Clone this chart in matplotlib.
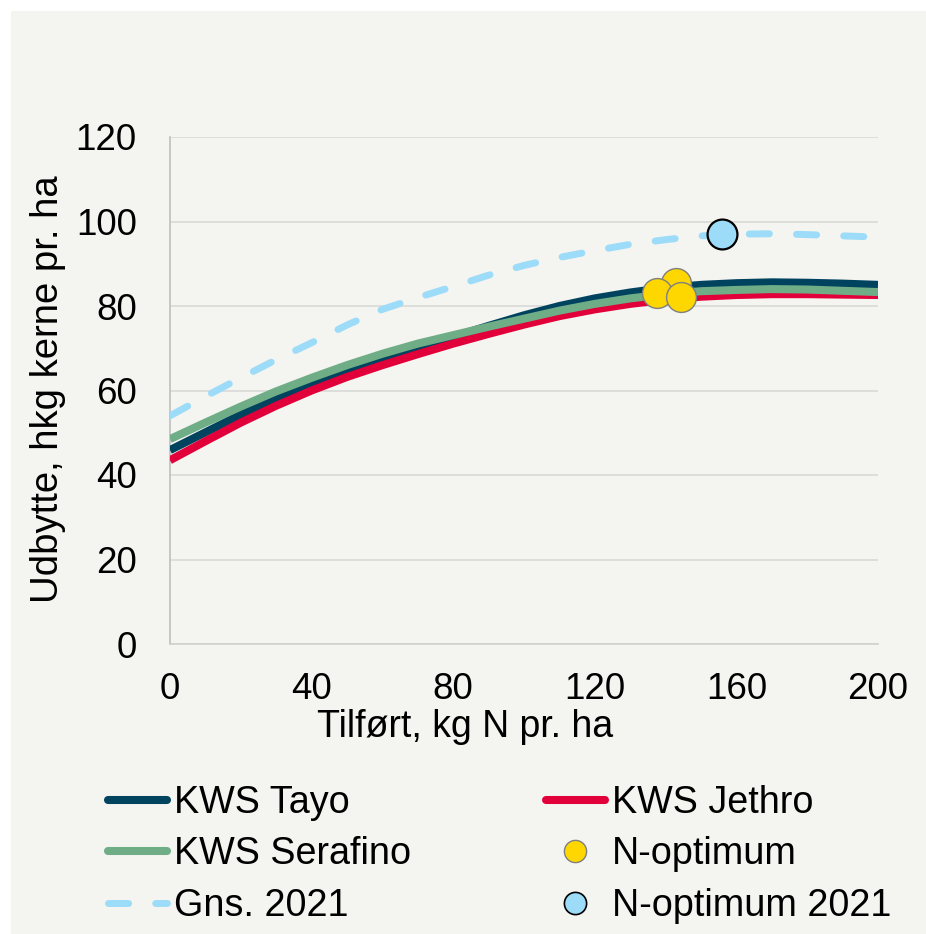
import matplotlib
matplotlib.use("Agg")
import matplotlib.pyplot as plt
from matplotlib.patches import Rectangle

plt.rcParams['font.family'] = ['Liberation Sans', 'DejaVu Sans']

# ---- data ----
n_levels = [0, 10, 20, 30, 40, 50, 60, 70, 80, 90, 100, 110, 120, 130, 140, 150, 160, 170, 180, 190, 200]
tayo = [45.9, 50.1, 54.3, 58.0, 61.4, 64.5, 67.4, 70.1, 72.7, 75.3, 77.8, 80.0, 81.8, 83.2, 84.3, 85.0, 85.4, 85.6, 85.5, 85.3, 85.0]
jethro = [43.5, 48.0, 52.4, 56.4, 60.0, 63.2, 66.0, 68.6, 71.1, 73.4, 75.6, 77.6, 79.2, 80.5, 81.5, 82.2, 82.6, 82.8, 82.8, 82.7, 82.6]
serafino = [48.5, 52.4, 56.2, 59.8, 63.0, 66.0, 68.7, 71.1, 73.1, 75.1, 77.0, 78.9, 80.5, 81.8, 82.8, 83.5, 83.8, 84.0, 83.9, 83.6, 83.3]
gns2021 = [54.0, 58.6, 63.0, 67.3, 71.3, 75.5, 79.2, 82.0, 84.6, 87.3, 89.6, 91.5, 93.1, 94.6, 95.7, 96.6, 97.0, 97.1, 96.9, 96.6, 96.3]
nopt_x = [143.0, 137.6, 144.3]
nopt_y = [85.4, 83.1, 82.2]
nopt21_x = [156.0]
nopt21_y = [97.0]
x_ticks = [0, 40, 80, 120, 160, 200]
y_ticks = [0, 20, 40, 60, 80, 100, 120]

W, H = 926, 934
fig = plt.figure(figsize=(W / 100, H / 100), dpi=100, facecolor='white')
bg = '#F4F4F0'
fig.patches.append(Rectangle((11 / W, 0), 1, 1 - 11 / H, transform=fig.transFigure,
                             facecolor=bg, edgecolor='none', zorder=-10))

ax = fig.add_axes([170 / W, 1 - 644 / H, (878 - 170) / W, (644 - 137) / H])
ax.set_facecolor(bg)
ax.set_xlim(0, 200)
ax.set_ylim(0, 120)
ax.set_xticks(x_ticks)
ax.set_yticks(y_ticks)
for s in ['top', 'right']:
    ax.spines[s].set_visible(False)
ax.spines['left'].set_color('#BFBFBF')
ax.spines['bottom'].set_color('#D0D0D0')
ax.spines['left'].set_linewidth(1.2)
ax.spines['bottom'].set_linewidth(1.2)
ax.grid(axis='y', color='#D9D9D9', linewidth=1.2)
ax.set_axisbelow(True)
ax.tick_params(length=0, labelsize=26.5, colors='black')
ax.tick_params(axis='y', pad=24)
ax.tick_params(axis='x', pad=20)
for lab in ax.get_xticklabels() + ax.get_yticklabels():
    lab.set_clip_on(False)

c_tayo = '#00435F'
c_jethro = '#E2003A'
c_sera = '#6FAD86'
c_gns = '#9DDCF9'

lw = 5.8
l_tayo, = ax.plot(n_levels, tayo, color=c_tayo, lw=lw, solid_capstyle='butt', zorder=3, label='KWS Tayo')
l_jethro, = ax.plot(n_levels, jethro, color=c_jethro, lw=lw, solid_capstyle='butt', zorder=3.1, label='KWS Jethro')
l_sera, = ax.plot(n_levels, serafino, color=c_sera, lw=lw, solid_capstyle='butt', zorder=3.2, label='KWS Serafino')
l_gns, = ax.plot(n_levels, gns2021, color=c_gns, lw=5.0, dashes=(2.9, 3.9), dash_capstyle='round',
                 zorder=3.3, label='Gns. 2021')
for xx, yy in zip(nopt_x, nopt_y):
    ax.plot([xx], [yy], 'o', ms=21.5, mfc='#FFD700', mec='#7F7F7F', mew=1.0, zorder=5, clip_on=False)
ax.plot(nopt21_x, nopt21_y, 'o', ms=21.5, mfc=c_gns, mec='black', mew=1.6, zorder=5, clip_on=False)

h_nopt, = ax.plot([], [], 'o', ms=16, mfc='#FFD700', mec='#7F7F7F', mew=1.0, label='N-optimum')
h_nopt21, = ax.plot([], [], 'o', ms=16, mfc=c_gns, mec='black', mew=1.2, label='N-optimum 2021')

fig.text(465 / W, 1 - 727 / H, 'Tilført, kg N pr. ha', ha='center', va='center', fontsize=27)
fig.text(48 / W, 1 - 389 / H, 'Udbytte, hkg kerne pr. ha', ha='center', va='center',
         rotation=90, fontsize=27.5)

handles = [l_tayo, l_sera, l_gns, l_jethro, h_nopt, h_nopt21]
labels = [h.get_label() for h in handles]
leg = fig.legend(handles, labels, ncol=2, loc='upper left',
                 bbox_to_anchor=(108 / W, 1 - 785 / H), frameon=False, fontsize=27.2,
                 handlelength=1.56, handletextpad=0.2, columnspacing=3.55,
                 labelspacing=0.41, borderaxespad=0, borderpad=0)
for lh in leg.get_lines():
    lh.set_solid_capstyle('round')

fig.savefig('out.png', dpi=100, facecolor='white')
